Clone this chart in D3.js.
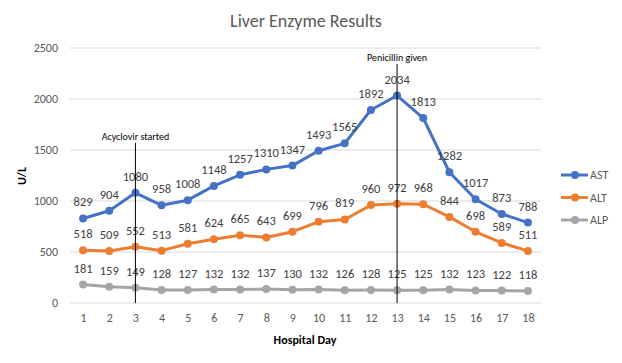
<!DOCTYPE html>
<html>
<head>
<meta charset="utf-8">
<script src="https://cdn.jsdelivr.net/npm/d3@7"></script>
<style>
  body { margin: 0; background: #fff; }
  text { font-family: Calibri, Carlito, "Open Sans", "Noto Sans", sans-serif; }
</style>
</head>
<body>
<script>
// Data
const days = [1, 2, 3, 4, 5, 6, 7, 8, 9, 10, 11, 12, 13, 14, 15, 16, 17, 18];
const ast = [829, 904, 1080, 958, 1008, 1148, 1257, 1310, 1347, 1493, 1565, 1892, 2034, 1813, 1282, 1017, 873, 788];
const alt = [518, 509, 552, 513, 581, 624, 665, 643, 699, 796, 819, 960, 972, 968, 844, 698, 589, 511];
const alp = [181, 159, 149, 128, 127, 132, 132, 137, 130, 132, 126, 128, 125, 125, 132, 123, 122, 118];
const yTicks = [0, 500, 1000, 1500, 2000, 2500];
const seriesNames = ['AST', 'ALT', 'ALP'];
const colors = ['#4472C4', '#ED7D31', '#A5A5A5'];
const events = [
  { day: 3, label: 'Acyclovir started', top: 1570 },
  { day: 13, label: 'Penicillin given', top: 2345 }
];

const width = 622, height = 363;
const margin = { top: 48, right: 81, bottom: 60, left: 70 };

const svg = d3.select('body').append('svg')
  .attr('width', width)
  .attr('height', height);

const x = d3.scalePoint()
  .domain(days)
  .range([margin.left, width - margin.right])
  .padding(0.5);

const y = d3.scaleLinear()
  .domain([0, 2500])
  .range([height - margin.bottom, margin.top]);

// Title
svg.append('text')
  .attr('x', 306).attr('y', 27)
  .attr('text-anchor', 'middle')
  .style('font-size', '18px')
  .style('fill', '#595959')
  .text('Liver Enzyme Results');

// Gridlines
svg.append('g')
  .selectAll('line')
  .data(yTicks)
  .join('line')
  .attr('x1', margin.left).attr('x2', width - margin.right)
  .attr('y1', d => y(d)).attr('y2', d => y(d))
  .attr('stroke', '#d9d9d9')
  .attr('stroke-width', 1);

// Y axis labels
const yAxis = svg.append('g')
  .attr('transform', `translate(${margin.left},0)`)
  .call(d3.axisLeft(y).tickValues(yTicks).tickFormat(d3.format('d')).tickSize(0).tickPadding(12));
yAxis.select('.domain').remove();
yAxis.selectAll('text')
  .style('font-size', '12px')
  .style('fill', '#595959')
  .style('font-family', 'Calibri, Carlito, "Open Sans", sans-serif');

// X axis labels
const xAxis = svg.append('g')
  .attr('transform', `translate(0,${height - margin.bottom})`)
  .call(d3.axisBottom(x).tickSize(0).tickPadding(10));
xAxis.select('.domain').remove();
xAxis.selectAll('text')
  .style('font-size', '12px')
  .style('fill', '#595959')
  .style('font-family', 'Calibri, Carlito, "Open Sans", sans-serif');

// Axis titles
svg.append('text')
  .attr('x', 305).attr('y', 344)
  .attr('text-anchor', 'middle')
  .style('font-size', '12px')
  .style('font-weight', 'bold')
  .style('fill', '#000')
  .text('Hospital Day');

svg.append('text')
  .attr('transform', 'translate(26,176) rotate(-90)')
  .attr('text-anchor', 'middle')
  .style('font-size', '12px')
  .style('font-weight', 'bold')
  .style('fill', '#000')
  .text('U/L');

// Series
const series = [ast, alt, alp].map((vals, i) => ({
  name: seriesNames[i],
  color: colors[i],
  values: vals.map((v, j) => ({ day: days[j], v }))
}));

const line = d3.line().x(d => x(d.day)).y(d => y(d.v));

// draw from back to front: ALP, ALT, AST
const seriesG = svg.append('g')
  .selectAll('g')
  .data(series.slice().reverse())
  .join('g');

seriesG.append('path')
  .attr('d', d => line(d.values))
  .attr('fill', 'none')
  .attr('stroke', d => d.color)
  .attr('stroke-width', 3)
  .attr('stroke-linejoin', 'round');

seriesG.selectAll('circle')
  .data(d => d.values.map(p => ({ ...p, color: d.color })))
  .join('circle')
  .attr('cx', d => x(d.day))
  .attr('cy', d => y(d.v))
  .attr('r', 4)
  .attr('fill', d => d.color);

// Event lines
const ev = svg.append('g').selectAll('g').data(events).join('g');
ev.append('line')
  .attr('x1', d => x(d.day)).attr('x2', d => x(d.day))
  .attr('y1', d => y(d.top)).attr('y2', y(0))
  .attr('stroke', '#000')
  .attr('stroke-width', 1);
ev.append('text')
  .attr('x', d => x(d.day))
  .attr('y', d => y(d.top) - 3)
  .attr('text-anchor', 'middle')
  .style('font-size', '10px')
  .style('fill', '#000')
  .text(d => d.label);

// Data labels
seriesG.selectAll('text.lbl')
  .data(d => d.values)
  .join('text')
  .attr('class', 'lbl')
  .attr('x', d => x(d.day))
  .attr('y', d => y(d.v) - 12)
  .attr('text-anchor', 'middle')
  .style('font-size', '12.5px')
  .style('fill', '#404040')
  .text(d => d.v);

// Legend
const legend = svg.append('g')
  .selectAll('g')
  .data(series)
  .join('g')
  .attr('transform', (d, i) => `translate(561,${175 + i * 22.5})`);
legend.append('line')
  .attr('x1', 0).attr('x2', 27)
  .attr('stroke', d => d.color)
  .attr('stroke-width', 3);
legend.append('circle')
  .attr('cx', 14).attr('r', 4)
  .attr('fill', d => d.color);
legend.append('text')
  .attr('x', 29).attr('y', 4)
  .style('font-size', '12px')
  .style('fill', '#595959')
  .text(d => d.name);
</script>
</body>
</html>
